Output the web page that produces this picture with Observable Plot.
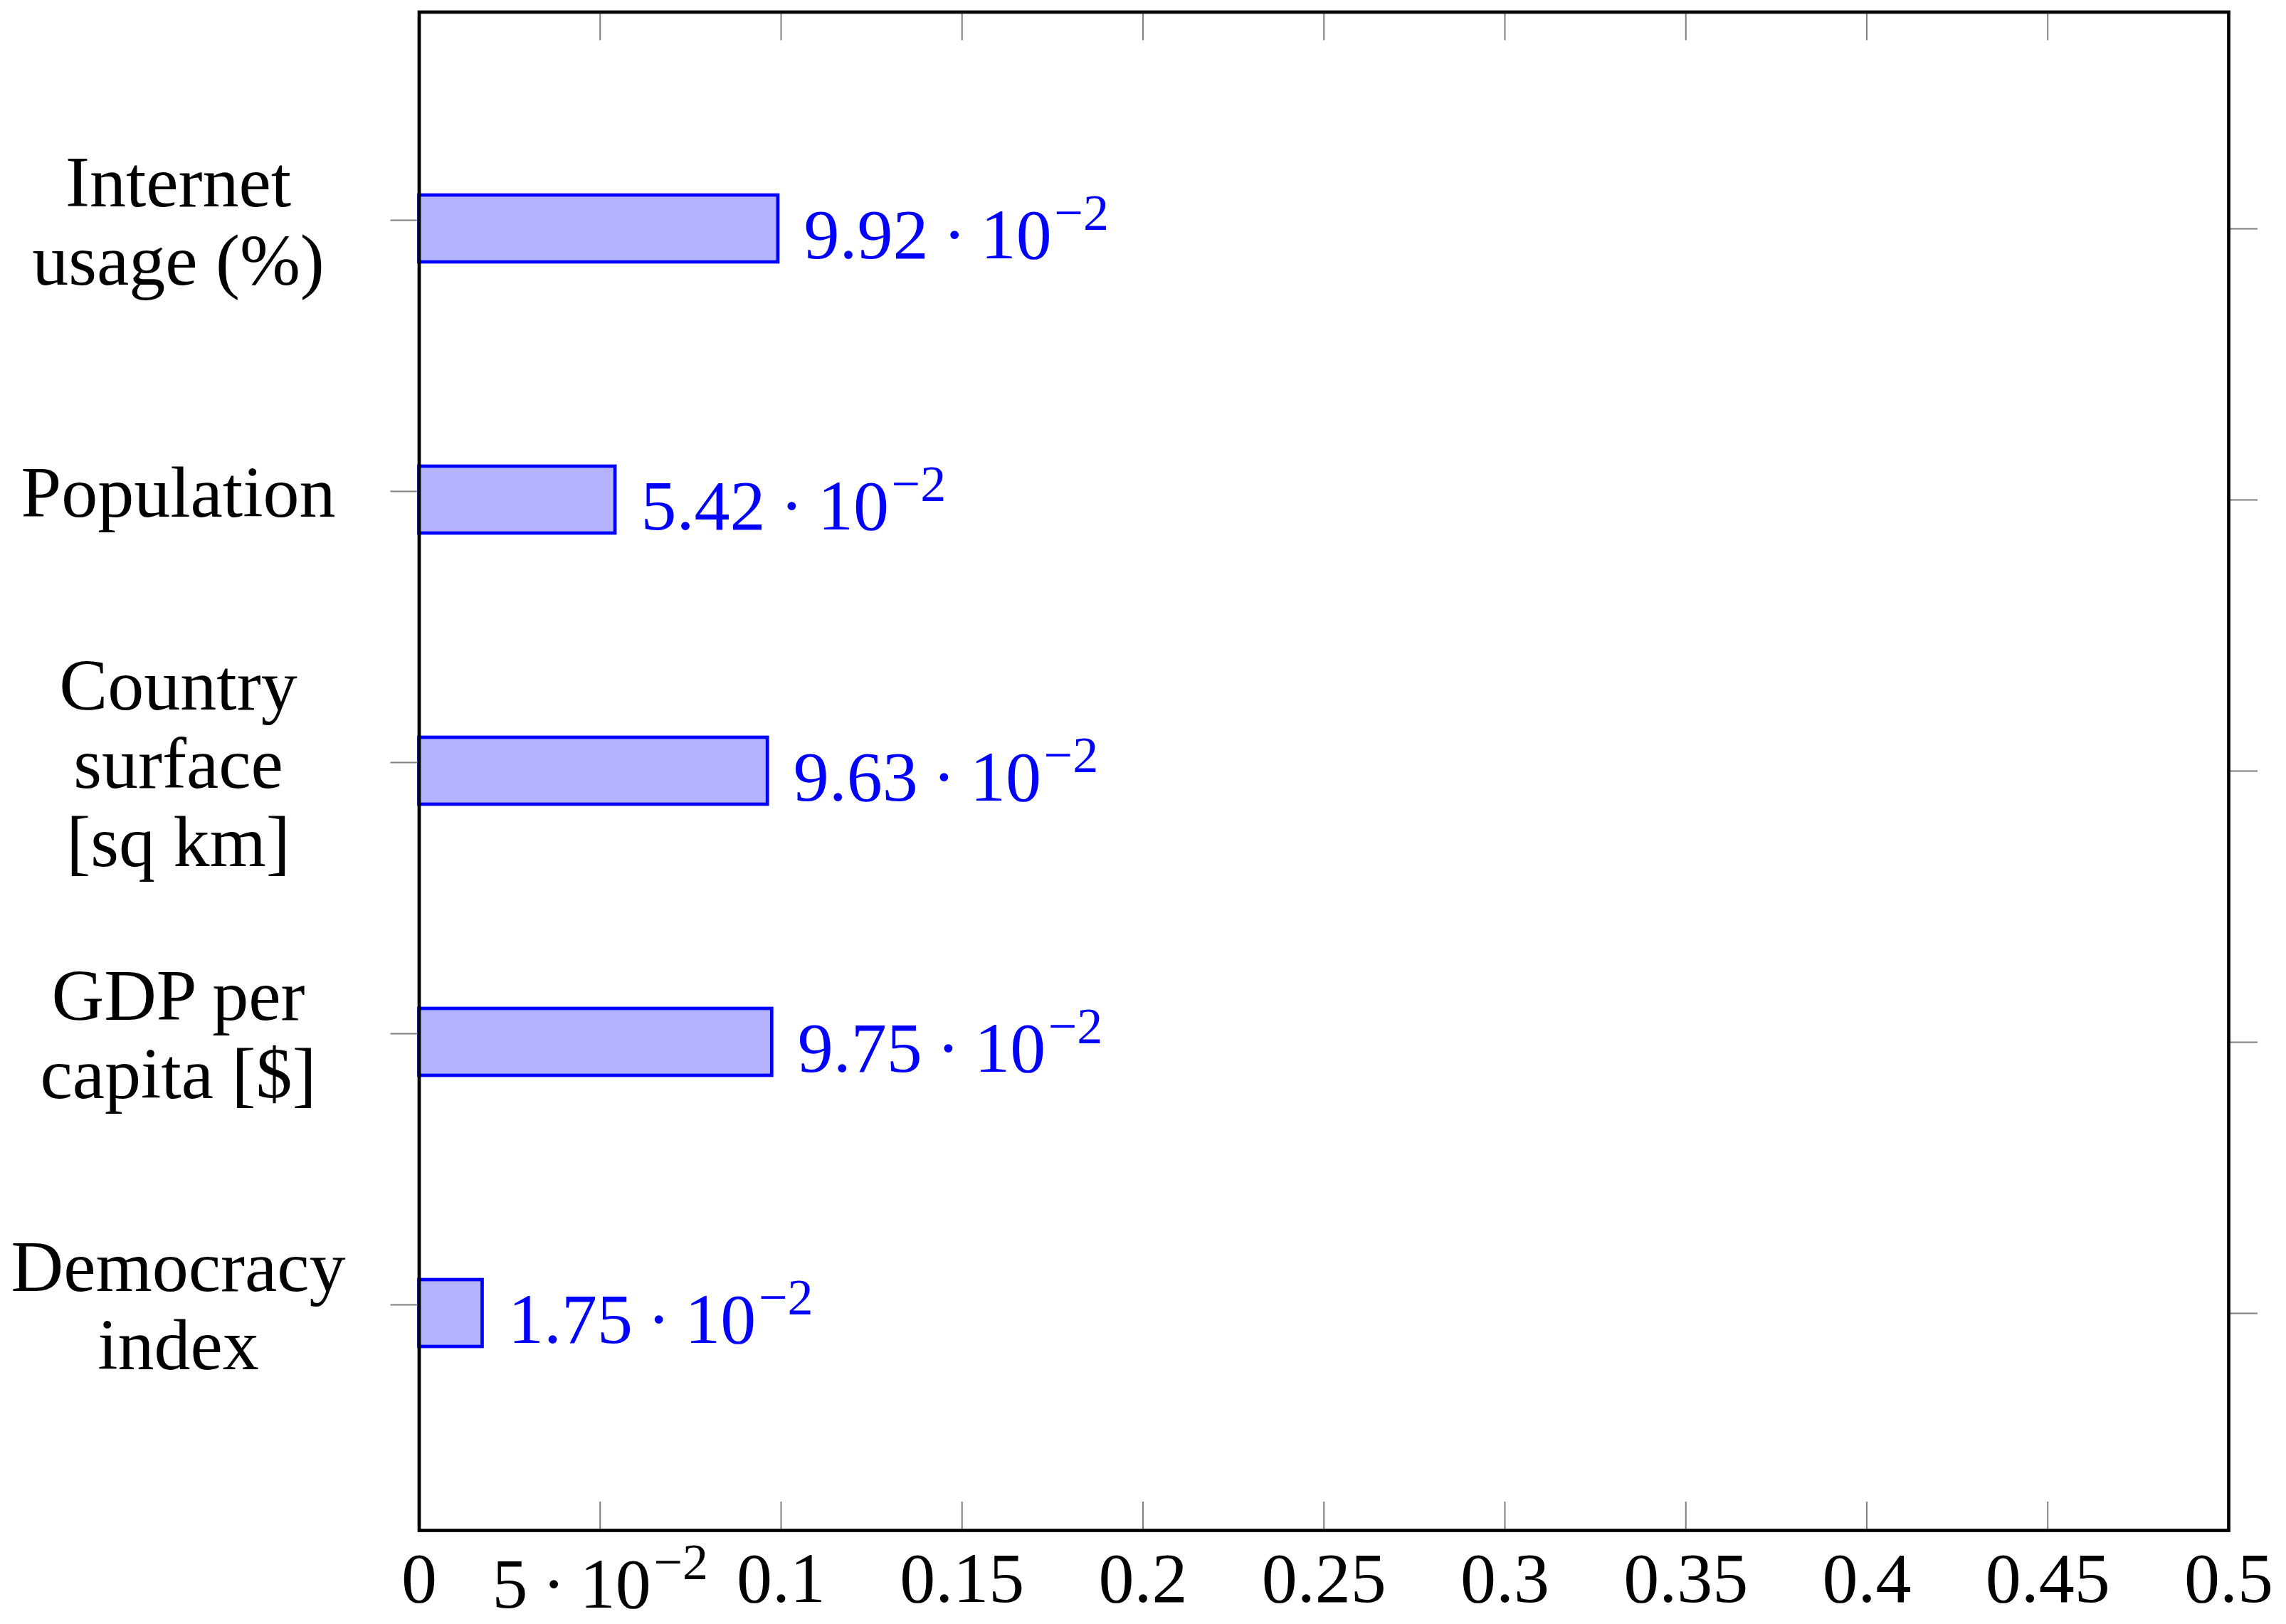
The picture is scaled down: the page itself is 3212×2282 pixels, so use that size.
<!DOCTYPE html>
<html>
<head>
<meta charset="utf-8">
<script src="https://cdn.jsdelivr.net/npm/d3@7"></script>
<script src="https://cdn.jsdelivr.net/npm/@observablehq/plot@0.6"></script>
<style>
  html, body { margin: 0; padding: 0; background: white; }
  svg { display: block; }
</style>
</head>
<body>
<div id="chart"></div>
<script>
const categories = ["Internet\nusage (%)", "Population", "Country\nsurface\n[sq km]", "GDP per\ncapita [$]", "Democracy\nindex"];
const values = [0.0992, 0.0542, 0.0963, 0.0975, 0.0175];
const xTicks = [0, 0.05, 0.1, 0.15, 0.2, 0.25, 0.3, 0.35, 0.4, 0.45, 0.5];

const data = categories.map((c, i) => ({c, v: values[i]}));

function fmt(v) {
  if (v === 0) return "0";
  if (Math.abs(v) < 0.1) {
    const e = Math.floor(Math.log10(Math.abs(v)));
    const m = +(v / Math.pow(10, e)).toFixed(2);
    return `${m}\u2009·\u200910^\u2212${-e}`;
  }
  return String(+v.toFixed(2));
}

const W = 3212, H = 2282, mT = 16.5, mB = 132, mL = 588.5, mR = 81;
const frameH = H - mT - mB;
const gray = "#808080";

const chart = Plot.plot({
  width: W, height: H,
  marginLeft: mL, marginRight: mR, marginTop: mT, marginBottom: mB,
  style: {fontFamily: "'Liberation Serif', serif", background: "white", color: "black"},
  x: {domain: [0, 0.5]},
  y: {domain: categories, paddingInner: 0.753, paddingOuter: 0.676, align: 0.5},
  marks: [
    Plot.barX(data, {x: "v", y: "c", fill: "#b3b3ff", stroke: "#0000ff", strokeWidth: 4.7}),
    Plot.gridX(xTicks, {stroke: gray, strokeOpacity: 1, strokeWidth: 2, insetTop: frameH - 40}),
    Plot.gridX(xTicks, {stroke: gray, strokeOpacity: 1, strokeWidth: 2, insetBottom: frameH - 40}),
    Plot.axisX(xTicks, {anchor: "bottom", tickSize: 0, tickPadding: 29, tickFormat: fmt, fontSize: 100, label: null, fill: "black"}),
    Plot.axisY({anchor: "left", tickSize: 40, tickPadding: 298.5, textAnchor: "middle", fontSize: 102, lineHeight: 1.08, dy: -12, stroke: gray, strokeWidth: 2, fill: "black", label: null}),
    Plot.axisY({anchor: "right", tickSize: 40, tickFormat: () => "", stroke: gray, strokeWidth: 2, label: null}),
    Plot.text(data, {x: "v", y: "c", text: d => fmt(d.v), textAnchor: "start", dx: 36, dy: 9, fontSize: 100, fill: "#0000ff"}),
    Plot.frame({stroke: "black", strokeWidth: 4.7})
  ]
});

document.getElementById("chart").appendChild(chart);

// superscripts for scientific notation
d3.select(chart).selectAll("text").each(function() {
  const el = this;
  if (el.childElementCount === 0 && el.textContent.includes("^")) {
    const [base, sup] = el.textContent.split("^");
    el.textContent = base;
    const ts = document.createElementNS("http://www.w3.org/2000/svg", "tspan");
    ts.setAttribute("font-size", "72%");
    ts.setAttribute("dy", "-0.55em");
    ts.setAttribute("dx", "0.05em");
    ts.textContent = sup;
    el.appendChild(ts);
    const g = el.closest("g[aria-label]");
    if (g && /x-axis/.test(g.getAttribute("aria-label"))) {
      const t = el.getAttribute("transform") || "";
      el.setAttribute("transform", (t + " translate(0,8)").trim());
    }
  }
});
</script>
</body>
</html>
